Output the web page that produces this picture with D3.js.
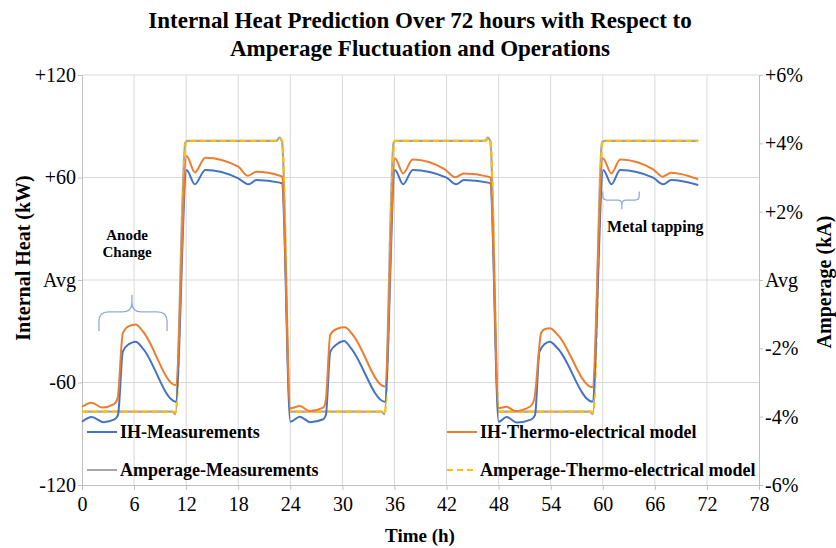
<!DOCTYPE html>
<html>
<head>
<meta charset="utf-8">
<script src="https://cdn.jsdelivr.net/npm/d3@7"></script>
<style>
  body { margin: 0; background: #fff; }
  text { font-family: "Liberation Serif", "Times New Roman", serif; fill: #000; }
</style>
</head>
<body>
<script>
// hours / kW readings
const ihMeasured = [
  [0, -83], [1.1, -80.2], [2.5, -83.2], [3.8, -81.5], [4.15, -79], [4.7, -42], [5.4, -37.5], [6.2, -36.1], [7, -40],
  [10.8, -71.2], [12.05, 64.4], [13.0, 56], [14.2, 64.4], [18.0, 59.5], [19.2, 56], [20.1, 58.5], [22.8, 57], [23.05, 56.5],
  [24.0, -83], [25.1, -80], [26.3, -83.2], [27.8, -81.5], [28.1, -79], [28.6, -42], [29.4, -37.5], [30.2, -35.7], [31, -40],
  [34.9, -71.2], [36.06, 64.4], [37.0, 56], [38.1, 64.4], [42.0, 59.9], [43.1, 56], [44.0, 58.5], [46.8, 57], [47.05, 56.5],
  [48.0, -83], [48.9, -80.2], [50.1, -83.4], [51.8, -81.6], [52.2, -79], [52.7, -42], [53.3, -37.5], [53.9, -36.1], [54.8, -40],
  [58.8, -71.2], [60.06, 64.4], [61.0, 56], [62.0, 64.4], [65.8, 59.9], [66.95, 56], [67.9, 58.5], [71.0, 55.6]
];
const ihModel = [
  [0, -74.2], [1.1, -71.8], [2.3, -74.6], [3.7, -72.6], [4.1, -69.3], [4.7, -31.2], [5.4, -27], [6.2, -26], [7, -30],
  [10.8, -61.5], [12.05, 72.6], [13.0, 63], [14.2, 71.6], [18.0, 66.3], [19.1, 61], [20.1, 63.4], [22.8, 61], [23.05, 60.5],
  [24.0, -75.1], [25.1, -73.8], [26.2, -76.7], [27.8, -74.7], [28.1, -70], [28.6, -32], [29.4, -28.5], [30.3, -27.7], [31.1, -31.5],
  [34.9, -62.4], [36.06, 71.2], [37.0, 62.4], [38.1, 70.6], [41.8, 64.8], [43.0, 60.1], [44.0, 62.4], [46.8, 60.5], [47.05, 60],
  [48.0, -75], [48.9, -74.2], [49.9, -76.7], [51.6, -74.2], [52.1, -70], [52.9, -31], [53.3, -28.8], [53.9, -28.3], [54.8, -32],
  [58.8, -62.8], [60.0, 71.2], [61.0, 62.4], [62.0, 70.6], [65.8, 64.8], [66.9, 60.5], [67.9, 62.8], [71.0, 59]
];
// hours / % of average amperage
const ampMeasured = [
  [0, -3.85], [10.4, -3.85], [10.75, -3.93], [11.9, 4.02], [12.2, 4.07], [22.4, 4.07], [22.75, 4.17], [23.05, 4.05],
  [24.0, -3.85], [34.5, -3.85], [34.85, -3.93], [35.9, 4.02], [36.2, 4.07], [46.4, 4.07], [46.75, 4.17], [47.05, 4.05],
  [48.0, -3.85], [58.5, -3.85], [58.85, -3.93], [59.9, 4.02], [60.2, 4.07], [71.0, 4.07]
];
const ampModel = [
  [0, -3.85], [10.6, -3.85], [10.8, -3.88], [12.0, 4.07], [22.5, 4.07], [22.8, 4.14], [23.05, 4.07],
  [24.0, -3.85], [34.7, -3.85], [34.9, -3.88], [36.0, 4.07], [46.5, 4.07], [46.8, 4.14], [47.05, 4.07],
  [48.0, -3.85], [58.7, -3.85], [58.9, -3.88], [60.0, 4.07], [71.0, 4.07]
];

const xTicks = d3.range(0, 79, 6);
const leftTicks = [-120, -60, 0, 60, 120];
const leftLabels = ['-120', '-60', 'Avg', '+60', '+120'];
const rightTicks = [-6, -4, -2, 0, 2, 4, 6];
const rightLabels = ['-6%', '-4%', '-2%', 'Avg', '+2%', '+4%', '+6%'];

const legendItems = [
  { name: 'IH-Measurements', color: '#4472C4', dash: null, col: 0, row: 0 },
  { name: 'IH-Thermo-electrical model', color: '#ED7D31', dash: null, col: 1, row: 0 },
  { name: 'Amperage-Measurements', color: '#A5A5A5', dash: null, col: 0, row: 1 },
  { name: 'Amperage-Thermo-electrical model', color: '#FFC000', dash: '6,4', col: 1, row: 1 }
];

const width = 836, height = 548;

const x = d3.scaleLinear().domain([0, 78]).range([82, 759]);
const yL = d3.scaleLinear().domain([-120, 120]).range([485, 75]);
const yR = d3.scaleLinear().domain([-6, 6]).range([485, 75]);

const svg = d3.select('body').append('svg')
    .attr('width', width)
    .attr('height', height);

// gridlines
svg.append('g')
    .selectAll('line')
    .data(xTicks.filter(d => d > 0 && d < 78))
    .enter().append('line')
    .attr('x1', d => x(d)).attr('x2', d => x(d))
    .attr('y1', yL(120)).attr('y2', yL(-120))
    .attr('stroke', '#d9d9d9');

svg.append('g')
    .selectAll('line')
    .data(leftTicks.filter(d => d > -120))
    .enter().append('line')
    .attr('x1', x(0)).attr('x2', x(78))
    .attr('y1', d => yL(d)).attr('y2', d => yL(d))
    .attr('stroke', '#d9d9d9');

// axes
const axisFont = g => {
  g.select('.domain').attr('stroke', '#bfbfbf');
  g.selectAll('.tick line').attr('stroke', '#bfbfbf');
  g.selectAll('.tick text')
      .style('font-family', '"Liberation Serif", "Times New Roman", serif')
      .style('font-size', '20px')
      .attr('fill', '#000');
};

svg.append('g')
    .attr('transform', `translate(0,${yL(-120)})`)
    .call(d3.axisBottom(x).tickValues(xTicks).tickSize(5).tickSizeOuter(0).tickPadding(7))
    .call(axisFont);

svg.append('g')
    .attr('transform', `translate(${x(0)},0)`)
    .call(d3.axisLeft(yL).tickValues(leftTicks).tickSize(4).tickSizeOuter(0).tickPadding(2)
        .tickFormat((d, i) => leftLabels[i]))
    .call(axisFont);

svg.append('g')
    .attr('transform', `translate(${x(78)},0)`)
    .call(d3.axisRight(yR).tickValues(rightTicks).tickSize(4).tickSizeOuter(0).tickPadding(2)
        .tickFormat((d, i) => rightLabels[i]))
    .call(axisFont);

// series
const lineL = d3.line().x(d => x(d[0])).y(d => yL(d[1])).curve(d3.curveMonotoneX);
const lineR = d3.line().x(d => x(d[0])).y(d => yR(d[1])).curve(d3.curveMonotoneX);

svg.append('path').datum(ampMeasured).attr('d', lineR)
    .attr('fill', 'none').attr('stroke', '#A5A5A5').attr('stroke-width', 2.2);
svg.append('path').datum(ampModel).attr('d', lineR)
    .attr('fill', 'none').attr('stroke', '#FFC000').attr('stroke-width', 2.2)
    .attr('stroke-dasharray', '6,4');
svg.append('path').datum(ihMeasured).attr('d', lineL)
    .attr('fill', 'none').attr('stroke', '#4472C4').attr('stroke-width', 2);
svg.append('path').datum(ihModel).attr('d', lineL)
    .attr('fill', 'none').attr('stroke', '#ED7D31').attr('stroke-width', 2);

// annotations (braces)
function brace(x0, x1, xm, yBar, yEnd, yTip) {
  const r = Math.abs(yEnd - yBar) * 0.5;
  const s = Math.sign(yEnd - yBar);
  const t = Math.sign(yTip - yBar);
  return `M${x0},${yEnd} L${x0},${yBar + s * r} Q${x0},${yBar} ${x0 + r},${yBar}` +
      ` L${xm - r},${yBar} Q${xm},${yBar} ${xm},${yBar + t * r} L${xm},${yTip}` +
      ` M${xm},${yBar + t * r} Q${xm},${yBar} ${xm + r},${yBar}` +
      ` L${x1 - r},${yBar} Q${x1},${yBar} ${x1},${yBar + s * r} L${x1},${yEnd}`;
}

svg.append('path')
    .attr('d', brace(x(1.95), x(9.8), x(5.75), yL(-18.7), yL(-29.9), yL(-8.6)))
    .attr('fill', 'none').attr('stroke', '#8FAADC').attr('stroke-width', 1.3);
svg.append('path')
    .attr('d', brace(x(60.0), x(64.2), x(62.2), yL(46.8), yL(51.8), yL(41.4)))
    .attr('fill', 'none').attr('stroke', '#8FAADC').attr('stroke-width', 1.3);

svg.append('text')
    .attr('x', x(5.2)).attr('y', yL(-18.7) - 72)
    .attr('text-anchor', 'middle')
    .style('font-size', '15px').style('font-weight', 'bold')
    .text('Anode');
svg.append('text')
    .attr('x', x(5.2)).attr('y', yL(-18.7) - 55)
    .attr('text-anchor', 'middle')
    .style('font-size', '15px').style('font-weight', 'bold')
    .text('Change');
svg.append('text')
    .attr('x', x(60.5)).attr('y', yL(46.8) + 32)
    .style('font-size', '16px').style('font-weight', 'bold')
    .text('Metal tapping');

// legend
const legend = svg.append('g')
    .selectAll('g')
    .data(legendItems)
    .enter().append('g')
    .attr('transform', d => `translate(${d.col ? 447 : 87},${d.row ? 470 : 432})`);

legend.append('line')
    .attr('x1', 0).attr('x2', 30)
    .attr('stroke', d => d.color).attr('stroke-width', 2)
    .attr('stroke-dasharray', d => d.dash);

legend.append('text')
    .attr('x', 33).attr('dy', '0.35em')
    .style('font-size', '18px').style('font-weight', 'bold')
    .text(d => d.name);

// titles
svg.append('text')
    .attr('x', 420).attr('y', 28)
    .attr('text-anchor', 'middle')
    .style('font-size', '23px').style('font-weight', 'bold')
    .text('Internal Heat Prediction Over 72 hours with Respect to');
svg.append('text')
    .attr('x', 420).attr('y', 56)
    .attr('text-anchor', 'middle')
    .style('font-size', '23px').style('font-weight', 'bold')
    .text('Amperage Fluctuation and Operations');

svg.append('text')
    .attr('transform', `translate(30,258) rotate(-90)`)
    .attr('text-anchor', 'middle')
    .style('font-size', '20px').style('font-weight', 'bold')
    .text('Internal Heat (kW)');

svg.append('text')
    .attr('transform', `translate(831,282) rotate(-90)`)
    .attr('text-anchor', 'middle')
    .style('font-size', '20px').style('font-weight', 'bold')
    .text('Amperage (kA)');

svg.append('text')
    .attr('x', 420).attr('y', 542)
    .attr('text-anchor', 'middle')
    .style('font-size', '19px').style('font-weight', 'bold')
    .text('Time (h)');
</script>
</body>
</html>
